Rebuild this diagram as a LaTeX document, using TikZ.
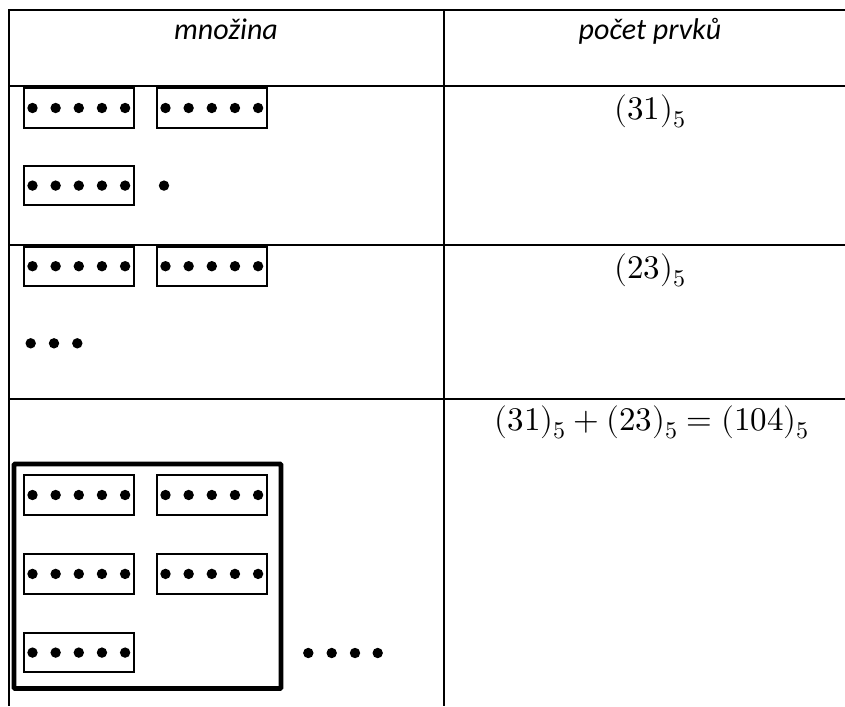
\documentclass[tikz,border=0pt]{standalone}
\usepackage{unicode-math}
\setmathfont{Latin Modern Math}
\newfontfamily\calibri{Carlito}
% larger subscripts for the counts
\DeclareMathSizes{33}{33}{24}{18}
\begin{document}
\begin{tikzpicture}[x=1pt,y=-1pt,
  rule/.style={line width=2.2pt},
  boxline/.style={line width=2pt},
  bigbox/.style={line width=4.6pt, rounded corners=0.8pt},
  head/.style={font=\calibri\itshape\fontsize{30}{36}\selectfont, inner sep=0pt},
  count/.style={font=\fontsize{33}{40}\selectfont, inner sep=0pt},
  dot/.style={fill=black},
  fivebox/.pic={
    \draw[boxline] (0,0) rectangle (110.6,39.4);
    \foreach \i in {0,...,4}
      \fill[dot] (8.8+23.15*\i,19.7) circle[radius=5.2pt];
  }
]
\useasboundingbox (0,0) rectangle (845,706);

% table rules
\draw[rule] (845,10) -- (9,10) -- (9,706);
\draw[rule] (443.7,10) -- (443.7,706);
\draw[rule] (9,85.7) -- (845,85.7);
\draw[rule] (9,245) -- (845,245);
\draw[rule] (9,399) -- (845,399);

% header
\node[head, anchor=base] (hset) at (226,40) {množina};
\node[head, anchor=base] (hcount) at (650,40) {počet prvků};

% first set: 3 groups of five and 1
\pic at (23.7,88.3) {fivebox};
\pic at (156.7,88.3) {fivebox};
\pic at (23.7,165.9) {fivebox};
\fill[dot] (164,185.6) circle[radius=5.2pt];
\node[count, anchor=base] (n1) at (650,119) {$(31)_5$};

% second set: 2 groups of five and 3
\pic at (23.7,246.5) {fivebox};
\pic at (156.7,246.5) {fivebox};
\foreach \x in {30.7,54,77.3}
  \fill[dot] (\x,343.3) circle[radius=5.2pt];
\node[count, anchor=base] (n2) at (650,278) {$(23)_5$};

% union: one group of five fives and 4
\draw[bigbox] (14,464) rectangle (281,688.5);
\pic at (23.7,475.3) {fivebox};
\pic at (156.7,475.3) {fivebox};
\pic at (23.7,554.2) {fivebox};
\pic at (156.7,554.2) {fivebox};
\pic at (23.7,632.9) {fivebox};
\foreach \x in {308.3,331.7,355,377.7}
  \fill[dot] (\x,653) circle[radius=5.2pt];
\node[count, anchor=base] (n3) at (652,430) {$(31)_5+(23)_5=(104)_5$};
\end{tikzpicture}
\end{document}
